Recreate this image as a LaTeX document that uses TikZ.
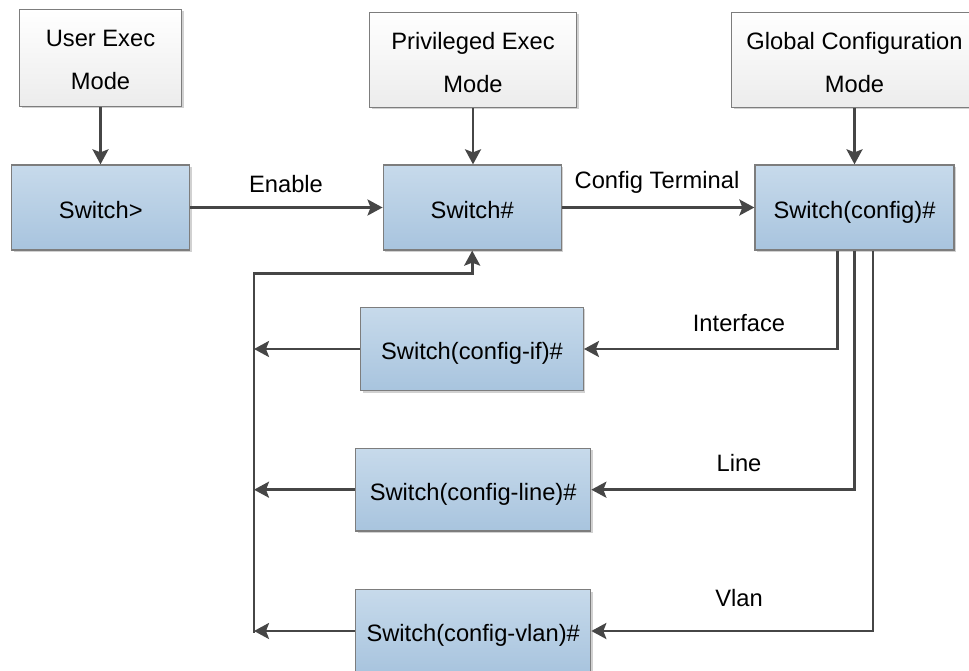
\documentclass[tikz,border=0pt]{standalone}
\usepackage{fontspec}
\setmainfont{Liberation Sans}
\usetikzlibrary{arrows.meta,shadows}
\definecolor{linec}{RGB}{70,70,70}
\definecolor{boxborder}{RGB}{125,125,125}
\definecolor{bluetop}{RGB}{199,218,235}
\definecolor{bluebot}{RGB}{168,196,222}
\definecolor{graybot}{RGB}{236,236,236}
\begin{document}
\begin{tikzpicture}[x=1pt,y=-1pt,
  boxbase/.style={draw=boxborder, line width=1.3pt, inner sep=0pt,
    drop shadow={shadow xshift=2pt, shadow yshift=-2pt, opacity=0.18, fill=black}},
  modebox/.style={boxbase, top color=white, bottom color=graybot, align=center,
    font=\fontsize{23.7}{42.6}\selectfont},
  bluebox/.style={boxbase, top color=bluetop, bottom color=bluebot,
    font=\fontsize{23.7}{28}\selectfont, text height=23pt, text depth=1.4pt},
  lbl/.style={font=\fontsize{23.7}{28}\selectfont, inner sep=0pt, anchor=base},
  conn/.style={draw=linec, line width=2.6pt},
  arr/.style={conn, -{Stealth[length=15pt,width=16pt,inset=3pt]}}
]
\useasboundingbox (0,0) rectangle (969,671);
\fill[white] (0,0) rectangle (969,671);

% mode boxes
\node[modebox, minimum width=162pt, minimum height=97pt] (user) at (100.5,57.7) {\rule{0pt}{20.6pt}User Exec\\Mode};
\node[modebox, minimum width=207pt, minimum height=95pt] (priv) at (473,60) {\rule{0pt}{22.3pt}Privileged Exec\\Mode};
\node[modebox, minimum width=246pt, minimum height=95pt] (glob) at (854.5,60) {\rule{0pt}{22.5pt}Global Configuration\\Mode};

% switch prompts
\node[bluebox, minimum width=178pt, minimum height=85pt] (sw1) at (100.8,207.5) {Switch>};
\node[bluebox, minimum width=178pt, minimum height=85pt] (sw2) at (472.2,207.5) {Switch\#};
\node[bluebox, minimum width=199pt, minimum height=85pt] (sw3) at (854.5,207.5) {Switch(config)\#};
\node[bluebox, minimum width=222.6pt, minimum height=83.4pt] (cif) at (472,349) {Switch(config-if)\#};
\node[bluebox, minimum width=235pt, minimum height=82.7pt] (cline) at (473.2,489.7) {Switch(config-line)\#};
\node[bluebox, minimum width=235pt, minimum height=83pt] (cvlan) at (473.2,631) {Switch(config-vlan)\#};

% labels
\node[lbl] (lenable) at (286,193) {Enable};
\node[lbl] (lconf) at (657,188.5) {Config Terminal};
\node[lbl] (lif) at (739,331.5) {Interface};
\node[lbl] (lline) at (739,471.7) {Line};
\node[lbl] (lvlan) at (739,606) {Vlan};

% bus coordinates
\coordinate (busT) at (254,273.3);
\coordinate (busB) at (254,632.5);

% vertical arrows from mode boxes
\draw[arr] (user.south) -- (user.south |- sw1.north);
\draw[arr] (priv.south) -- (priv.south |- sw2.north);
\draw[arr] (glob.south) -- (glob.south |- sw3.north);

% horizontal main flow
\draw[arr] (sw1.east) -- (sw2.west);
\draw[arr] (sw2.east) -- (sw3.west);

% branches from config
\draw[arr] ([xshift=-17pt]sw3.south) |- (cif.east);
\draw[arr] (sw3.south) |- (cline.east);
\draw[arr] ([xshift=18.5pt]sw3.south) |- (cvlan.east);

% returns
\draw[arr] (cif.west) -- (cif.west -| busT);
\draw[arr] (cline.west) -- (cline.west -| busT);
\draw[arr] (cvlan.west) -- (cvlan.west -| busT);
\draw[arr] (busB) -- (busT) -| (sw2.south);
\end{tikzpicture}
\end{document}
